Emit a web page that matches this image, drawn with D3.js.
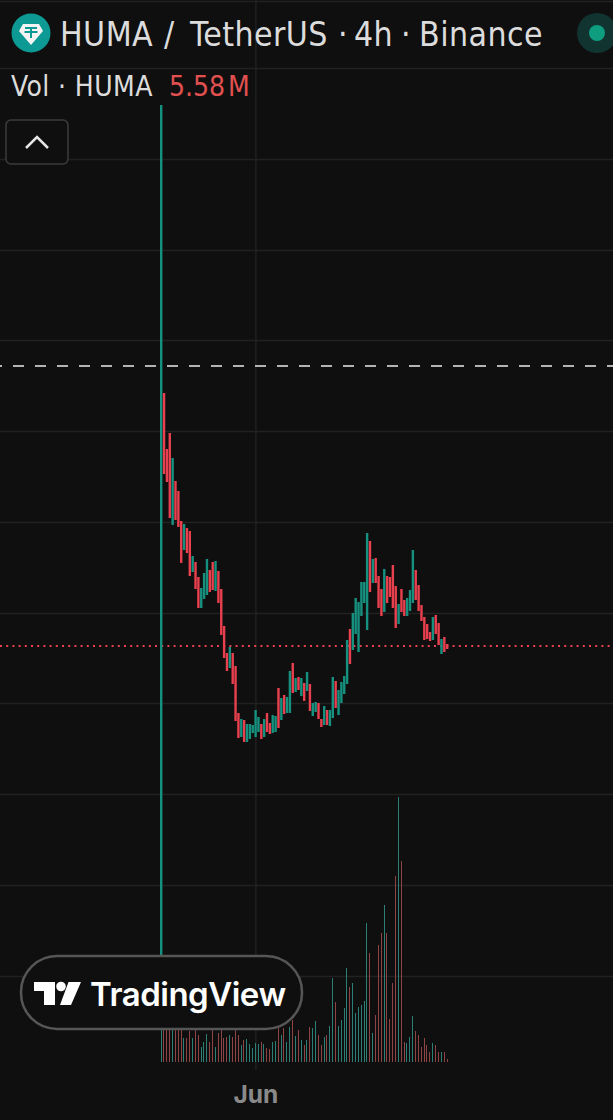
<!DOCTYPE html>
<html lang="en">
<head>
<meta charset="UTF-8">
<title>HUMA / TetherUS 4h</title>
<script src="https://d3js.org/d3.v7.min.js"></script>
<style>
    html, body { margin: 0; padding: 0; background: #0f0f0f; overflow: hidden; }
    svg { display: block; }
    .title { font-family: "DejaVu Sans Condensed", "DejaVu Sans", sans-serif; font-stretch: condensed; fill: #dcdcdc; }
    .grid line { stroke: #212121; stroke-width: 1.5; }
    .grid path { display: none; }
    .x-axis path, .x-axis line { display: none; }
    .x-axis text { font-family: Inter, sans-serif; font-size: 24.5px; font-weight: 700; fill: #8a8a8a; }
</style>
</head>
<body>
<div id="chart"></div>
<script>
// candles, 4h, oldest first
const highs = [.1015,.0727,.0671,.0687,.0662,.0639,.0629,.0599,.0596,.0592,.0589,.0564,.0558,.0543,.0532,.0547,.0561,.0550,.0558,.0559,
    .0549,.0531,.0494,.0467,.0473,.0467,.0454,.0407,.0401,.0400,.0396,.0396,.0395,.0410,.0403,.0396,.0401,.0407,.0397,.0405,
    .0404,.0432,.0422,.0425,.0423,.0449,.0457,.0442,.0443,.0442,.0437,.0448,.0436,.0417,.0418,.0417,.0401,.0414,.0410,.0410,
    .0443,.0439,.0430,.0438,.0444,.0480,.0491,.0507,.0522,.0518,.0538,.0538,.0587,.0579,.0561,.0562,.0544,.0531,.0551,.0544,
    .0543,.0555,.0534,.0516,.0531,.0520,.0522,.0530,.0570,.0550,.0535,.0515,.0503,.0496,.0488,.0503,.0505,.0497,.0481,.0483,.0476];
const lows = [.0145,.0646,.0638,.0602,.0595,.0600,.0593,.0557,.0570,.0567,.0544,.0548,.0531,.0512,.0512,.0521,.0525,.0528,.0530,.0529,
    .0517,.0485,.0462,.0449,.0452,.0436,.0399,.0382,.0383,.0378,.0378,.0381,.0387,.0383,.0388,.0381,.0383,.0388,.0386,.0387,
    .0388,.0392,.0400,.0406,.0407,.0407,.0427,.0428,.0430,.0424,.0419,.0429,.0409,.0404,.0408,.0401,.0393,.0395,.0395,.0394,
    .0402,.0412,.0405,.0417,.0426,.0436,.0456,.0470,.0486,.0468,.0504,.0517,.0490,.0528,.0537,.0537,.0512,.0504,.0508,.0517,
    .0523,.0512,.0492,.0496,.0508,.0504,.0504,.0509,.0517,.0520,.0509,.0499,.0480,.0481,.0479,.0480,.0486,.0475,.0466,.0468,.0471];
// 1 = up candle, 0 = down candle
const ups = [1,0,0,0,1,0,0,0,1,0,0,1,0,0,1,1,1,0,0,1,
    0,0,0,0,1,0,0,0,1,0,1,1,1,1,1,0,1,0,0,1,
    1,0,1,0,1,1,0,1,0,1,0,1,0,1,1,0,0,1,0,1,
    1,0,1,1,1,1,0,1,1,1,1,1,1,0,1,0,0,0,1,0,
    0,0,0,1,0,0,1,1,1,0,0,0,0,0,0,1,0,0,1,0,0];
// volume in millions of HUMA
const volumes = [124,94,94,84,74,84,74,68,48,48,62,48,64,54,30,40,56,40,66,30,
    58,66,48,50,54,50,66,54,34,44,46,36,28,38,36,40,36,28,26,40,
    42,70,54,68,40,70,84,52,64,44,34,44,70,68,82,54,34,50,54,72,
    168,120,72,84,108,188,150,158,98,110,114,122,278,218,58,94,234,258,314,258,
    86,158,372,530,402,40,38,50,92,62,54,30,48,34,20,38,34,20,20,20,5.58];
const gridPrices = [.1119,.1052,.0961,.0870,.0780,.0689,.0598,.0507,.0417,.0326,.0235,.0144];
const gridIndexes = [33];
const monthLabels = {33: "Jun"};
const dashedPrice = .0754;
const lastPrice = .0474;

const width = 613, height = 1120;
const teal = "#16917f", red = "#e8404e";
const tealVol = "#2c7f74", redVol = "#8e4445";

const svg = d3.select("#chart").append("svg").attr("width", width).attr("height", height);
svg.append("rect").attr("width", width).attr("height", height).attr("fill", "#0f0f0f");

const x = d3.scaleLinear().domain([0, highs.length - 1]).range([161, 447]);
const y = d3.scaleLinear().domain([.112, 0]).range([0, 1120]);
const yVol = d3.scaleLinear().domain([0, 530]).range([1062, 797]);

// grid
svg.append("g").attr("class", "grid")
    .call(d3.axisLeft(y).tickValues(gridPrices).tickSize(-width).tickFormat(""));
svg.append("g").attr("class", "grid")
    .attr("transform", "translate(0,1070)")
    .call(d3.axisTop(x).tickValues(gridIndexes).tickSize(1070).tickFormat(""));

// price lines
svg.append("line").attr("x1", 0).attr("x2", width)
    .attr("y1", y(dashedPrice)).attr("y2", y(dashedPrice))
    .attr("stroke", "#b4b4b4").attr("stroke-width", 1.8)
    .attr("stroke-dasharray", "11 11").attr("stroke-dashoffset", 9);
svg.append("line").attr("x1", 0).attr("x2", width)
    .attr("y1", y(lastPrice)).attr("y2", y(lastPrice))
    .attr("stroke", red).attr("stroke-width", 2).attr("stroke-dasharray", "2 4.2");

// volume
svg.append("g").attr("shape-rendering", "crispEdges")
    .selectAll("rect").data(volumes).enter().append("rect")
    .attr("x", (d, i) => x(i) - 0.5)
    .attr("y", d => yVol(d))
    .attr("width", 1)
    .attr("height", d => yVol(0) - yVol(d))
    .attr("fill", (d, i) => ups[i] ? tealVol : redVol);

// candles
svg.append("g").selectAll("rect").data(highs).enter().append("rect")
    .attr("x", (d, i) => x(i) - 1)
    .attr("y", d => y(d))
    .attr("width", 2.4)
    .attr("height", (d, i) => y(lows[i]) - y(d))
    .attr("fill", (d, i) => ups[i] ? teal : red);

// x axis
svg.append("g").attr("class", "x-axis")
    .attr("transform", "translate(0,1083)")
    .call(d3.axisBottom(x).tickValues(gridIndexes).tickSize(0).tickFormat(d => monthLabels[d]));

// header
svg.append("circle").attr("cx", 31).attr("cy", 33).attr("r", 19.5).attr("fill", "#0d9a94");
svg.append("path").attr("d", "M23 24 H39 L43 31 L31 45 L19 31 Z").attr("fill", "#f4f4f4");
svg.append("path").attr("d", "M25 28 H37 M31 28 V38 M24.5 32 H37.5").attr("stroke", "#0d9a94").attr("stroke-width", 2).attr("fill", "none");

const titleParts = [["HUMA", 60], ["/", 164], ["TetherUS", 190], ["·", 338], ["4h", 354], ["·", 401], ["Binance", 419]];
const title = svg.append("text").attr("class", "title").attr("y", 46)
    .attr("font-size", 33.5).attr("letter-spacing", 0.45);
title.selectAll("tspan").data(titleParts).enter().append("tspan")
    .attr("x", d => d[1]).text(d => d[0]);
svg.append("circle").attr("cx", 597).attr("cy", 33).attr("r", 20).attr("fill", "#123431");
svg.append("circle").attr("cx", 597).attr("cy", 33).attr("r", 8).attr("fill", "#0f9d80");

svg.append("text").attr("class", "title").attr("x", 11).attr("y", 96)
    .attr("font-size", 28).attr("letter-spacing", 0.4).text("Vol · HUMA");
svg.append("text").attr("class", "title").attr("x", 169).attr("y", 96)
    .attr("font-size", 28).attr("word-spacing", -5).style("fill", "#e2504f").text("5.58 M");

// collapse button
svg.append("rect").attr("x", 6).attr("y", 120).attr("width", 62).attr("height", 44).attr("rx", 5)
    .attr("fill", "#0f0f0f").attr("stroke", "#3c3c3c").attr("stroke-width", 1.5);
svg.append("path").attr("d", "M26 148 L37 137 L48 148").attr("fill", "none")
    .attr("stroke", "#e6e6e6").attr("stroke-width", 2.5);

// watermark
const mark = svg.append("g");
mark.append("rect").attr("x", 21).attr("y", 956).attr("width", 281).attr("height", 73).attr("rx", 36)
    .attr("fill", "#0f0f0f").attr("stroke", "#565656").attr("stroke-width", 2.5);
mark.append("path").attr("d", "M34 982 H55 V1005 H44 V991 H34 Z M68.5 982 H81 L71 1005 H60 Z").attr("fill", "#fff");
mark.append("circle").attr("cx", 61).attr("cy", 986.5).attr("r", 4.8).attr("fill", "#fff");
mark.append("text").attr("x", 90).attr("y", 1006).attr("font-family", "Inter, sans-serif")
    .attr("font-weight", 600).attr("font-size", 33).attr("letter-spacing", -0.5).attr("fill", "#fff").text("TradingView");
</script>
</body>
</html>
